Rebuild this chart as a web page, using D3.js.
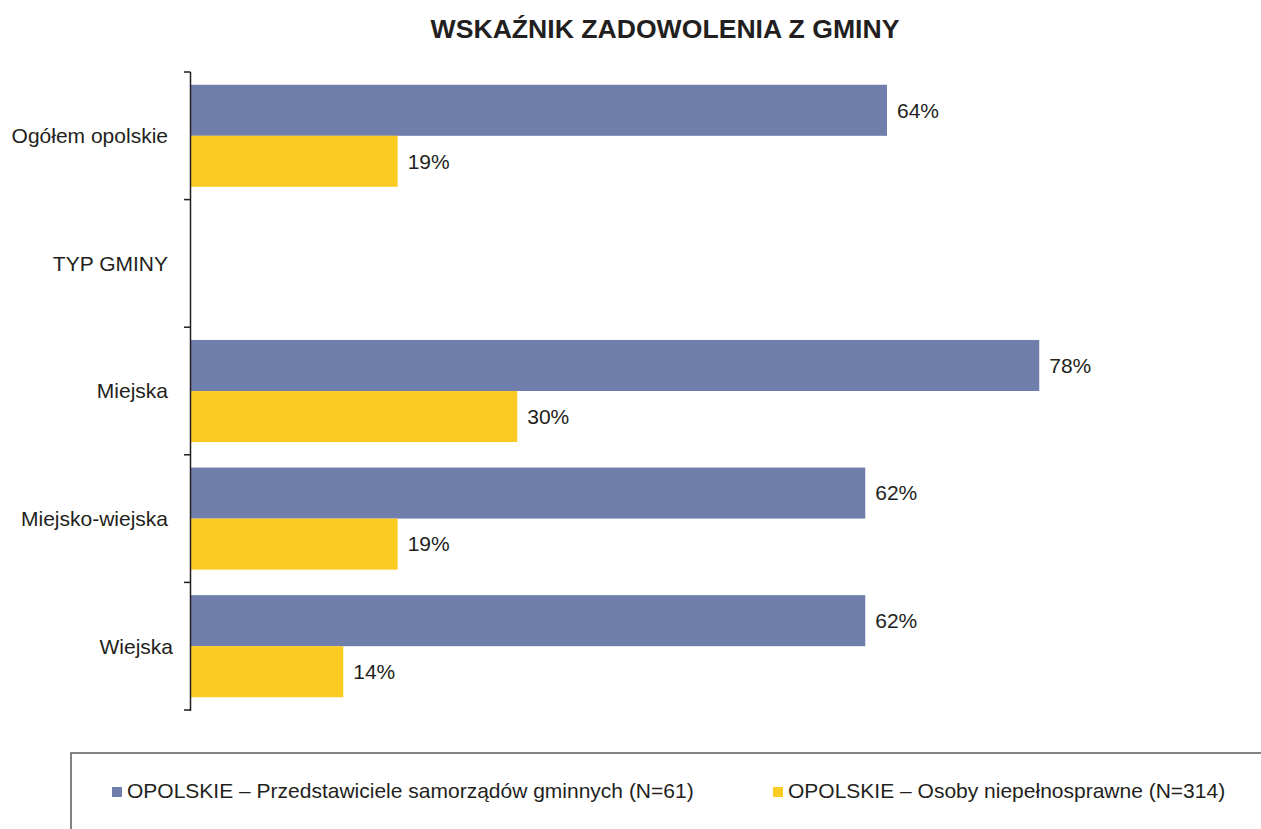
<!DOCTYPE html>
<html>
<head>
<meta charset="utf-8">
<script src="https://cdn.jsdelivr.net/npm/d3@7"></script>
<style>
  html, body { margin: 0; padding: 0; background: #fff; }
  svg { display: block; font-family: "Liberation Sans", Arial, sans-serif; }
</style>
</head>
<body>
<svg id="chart" width="1261" height="829"></svg>
<script>
// Chart content
const title = "WSKAŹNIK ZADOWOLENIA Z GMINY";
const categories = ["Ogółem opolskie", "TYP GMINY", "Miejska", "Miejsko-wiejska", "Wiejska"];
const seriesNames = [
  "OPOLSKIE – Przedstawiciele samorządów gminnych (N=61)",
  "OPOLSKIE – Osoby niepełnosprawne (N=314)"
];
const samorzady = [64, null, 78, 62, 62];
const niepelnosprawni = [19, null, 30, 19, 14];
const seriesColors = ["#6f7eab", "#fbcb23"];

const svg = d3.select("#chart");
const ink = "#231f20";

// Scales
const x = d3.scaleLinear().domain([0, 100]).range([191, 1278.5]);
const y = d3.scaleBand().domain(categories).range([72, 710])
  .paddingInner(0.2).paddingOuter(0.1);
const inner = d3.scaleBand().domain([0, 1]).range([0, y.bandwidth()]);

// Title
svg.append("text")
  .attr("x", 665).attr("y", 38)
  .attr("text-anchor", "middle")
  .attr("font-size", 26.6).attr("font-weight", "bold")
  .attr("fill", ink)
  .text(title);

// Bars and value labels
const series = [samorzady, niepelnosprawni];
series.forEach((vals, si) => {
  const rows = categories.map((c, i) => ({ c, v: vals[i] })).filter(d => d.v != null);
  const g = svg.append("g");
  g.selectAll("rect").data(rows).join("rect")
    .attr("x", x(0))
    .attr("y", d => y(d.c) + inner(si))
    .attr("width", d => x(d.v) - x(0))
    .attr("height", inner.bandwidth())
    .attr("fill", seriesColors[si]);
  g.selectAll("text").data(rows).join("text")
    .attr("x", d => x(d.v) + 10)
    .attr("y", d => y(d.c) + inner(si) + inner.bandwidth() / 2)
    .attr("dy", "0.35em")
    .attr("font-size", 21)
    .attr("fill", ink)
    .text(d => d.v + "%");
});

// Category axis with ticks on band boundaries
const step = y.step();
const boundaries = categories.map(c => y(c) - step * y.paddingInner() / 2)
  .concat([y(categories[categories.length - 1]) + y.bandwidth() + step * y.paddingInner() / 2]);
const axisG = svg.append("g");
axisG.append("line")
  .attr("x1", 190.5).attr("x2", 190.5)
  .attr("y1", boundaries[0]).attr("y2", boundaries[boundaries.length - 1] + 1)
  .attr("stroke", ink).attr("stroke-width", 1.5);
axisG.selectAll("line.tick").data(boundaries).join("line")
  .attr("class", "tick")
  .attr("x1", 184).attr("x2", 190.5)
  .attr("y1", d => d).attr("y2", d => d)
  .attr("stroke", ink).attr("stroke-width", 1.5);
axisG.selectAll("text").data(categories).join("text")
  .attr("x", d => d === "Wiejska" ? 173 : 168)
  .attr("y", d => y(d) + y.bandwidth() / 2)
  .attr("dy", "0.35em")
  .attr("text-anchor", "end")
  .attr("font-size", 21)
  .attr("fill", ink)
  .text(d => d);

// Legend
const legend = svg.append("g");
legend.append("rect")
  .attr("x", 71).attr("y", 753)
  .attr("width", 1300).attr("height", 200)
  .attr("fill", "none").attr("stroke", "#5a5a5a").attr("stroke-width", 1.5);
const legendX = [112, 773];
seriesNames.forEach((name, i) => {
  legend.append("rect")
    .attr("x", legendX[i]).attr("y", 787)
    .attr("width", 10).attr("height", 10)
    .attr("fill", seriesColors[i]);
  legend.append("text")
    .attr("x", legendX[i] + 15).attr("y", 798)
    .attr("font-size", 21)
    .attr("fill", ink)
    .text(name);
});
</script>
</body>
</html>
